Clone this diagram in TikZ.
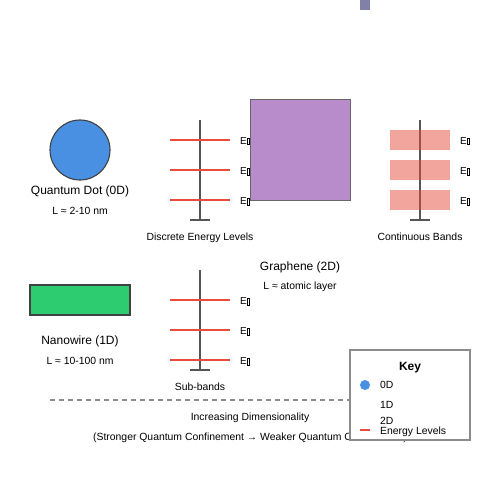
\documentclass[tikz,border=0pt]{standalone}
\usepackage{fontspec}
\setmainfont{Liberation Sans}
\newcommand{\tofu}{\kern0.4pt{\setlength\fboxsep{0pt}\setlength\fboxrule{0.3pt}\fbox{\rule{0pt}{6pt}\kern1.8pt}}}
\definecolor{dotblue}{HTML}{4A90E2}
\definecolor{wiregreen}{HTML}{2ECC71}
\definecolor{graphpurple}{HTML}{B88BCB}
\definecolor{levelred}{HTML}{E74C3C}
\definecolor{axisgray}{HTML}{555555}
\definecolor{topslate}{HTML}{8080A8}
\begin{document}
\begin{tikzpicture}[x=1pt,y=-1pt,
  title/.style={font=\fontsize{12}{14}\selectfont, inner sep=0pt, anchor=base},
  sub/.style={font=\fontsize{10.4}{12}\selectfont, inner sep=0pt, anchor=base},
  elabel/.style={font=\fontsize{10}{12}\selectfont, inner sep=0pt, anchor=base west},
  axisline/.style={draw=axisgray, line width=2pt},
  level/.style={draw=levelred, line width=2pt},
  band/.style={fill=levelred, fill opacity=0.5, draw=none},
  shapeedge/.style={draw=black!75, line width=1.1pt}]
\useasboundingbox (0,0) rectangle (500,500);
\fill[white] (0,0) rectangle (500,500);
% top small block
\fill[topslate] (360,0) rectangle (370,10);

% Quantum dot
\node[circle, minimum size=60pt, inner sep=0pt, fill=dotblue, shapeedge] (dot) at (80,150) {};
\node[title] (dotlbl) at (80,194.5) {Quantum Dot (0D)};
\node[sub] (dotL) at (80,214.5) {L ≈ 2-10 nm};

% Discrete energy levels
\draw[axisline] (200,120) -- (200,220);
\draw[axisline] (190,220) -- (210,220);
\foreach \y/\n in {140/a,170/b,200/c}{
  \draw[level] (170,\y) -- (230,\y);
  \node[elabel] (de\n) at (240,\y+4.5) {E\tofu};
}
\node[sub] (dlbl) at (200,240) {Discrete Energy Levels};

% Graphene
\node[rectangle, minimum width=100pt, minimum height=100pt, inner sep=0pt, fill=graphpurple, draw=black!60, line width=1pt] (graph) at (300,150) {};
\node[title] (graphlbl) at (300,270.5) {Graphene (2D)};
\node[sub] (graphL) at (300,289.5) {L ≈ atomic layer};

% Continuous bands
\draw[axisline] (420,120) -- (420,220);
\draw[axisline] (410,220) -- (430,220);
\foreach \y/\n in {140/a,170/b,200/c}{
  \fill[band] (390,\y-10) rectangle (450,\y+10);
  \node[elabel] (ce\n) at (460,\y+4.5) {E\tofu};
}
\node[sub] (clbl) at (420,240) {Continuous Bands};

% Nanowire
\node[rectangle, minimum width=100pt, minimum height=30pt, inner sep=0pt, fill=wiregreen, shapeedge] (wire) at (80,300) {};
\node[title] (wirelbl) at (80,344.5) {Nanowire (1D)};
\node[sub] (wireL) at (80,364.5) {L ≈ 10-100 nm};

% Sub-bands
\draw[axisline] (200,270) -- (200,370);
\draw[axisline] (190,370) -- (210,370);
\foreach \y/\n in {300/a,330/b,360/c}{
  \draw[level] (170,\y) -- (230,\y);
  \node[elabel] (se\n) at (240,\y+4.5) {E\tofu};
}
\node[sub] (slbl) at (200,390) {Sub-bands};

% Dimensionality axis
\draw[black!45, line width=1.2pt, dash pattern=on 5pt off 4pt] (50,400) -- (450,400);
\node[sub] (dimlbl) at (250,420) {Increasing Dimensionality};
\node[sub] (conflbl) at (250,440) {(Stronger Quantum Confinement → Weaker Quantum Confinement)};

% Key
\node[rectangle, minimum width=120pt, minimum height=90pt, inner sep=0pt, fill=white, draw=black!45, line width=1.2pt] (key) at (410,395) {};
\node[font=\bfseries\fontsize{12}{14}\selectfont, inner sep=0pt, anchor=base] (keyt) at (410,370.5) {Key};
\node[circle, minimum size=10pt, inner sep=0pt, fill=dotblue] (kdot) at (365,385) {};
\node[sub, anchor=base west] (k0) at (380,388.5) {0D};
\node[sub, anchor=base west] (k1) at (380,408.5) {1D};
\node[sub, anchor=base west] (k2) at (380,424) {2D};
\draw[level] (360,430) -- (370,430);
\node[sub, anchor=base west] (kel) at (380,434) {Energy Levels};
\end{tikzpicture}
\end{document}
